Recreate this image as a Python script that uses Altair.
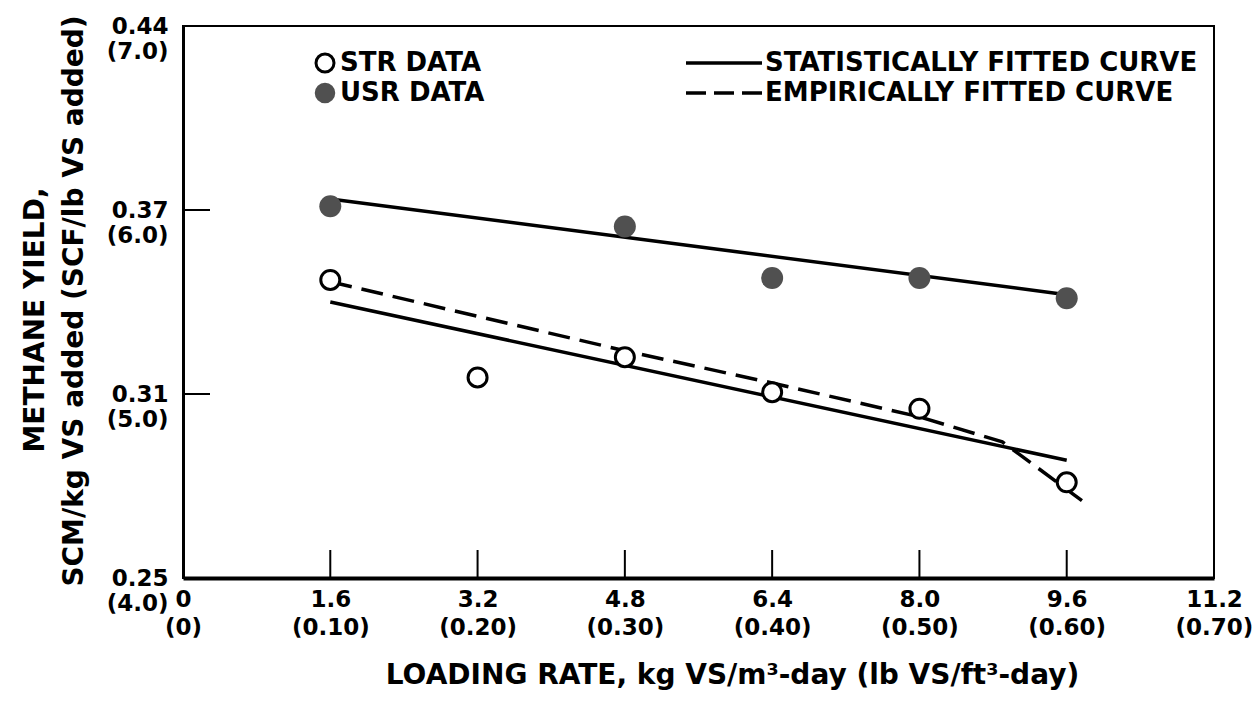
import altair as alt
import pandas as pd

# ---------------- data ----------------
# Loading rate, kg VS/m3-day ; methane yield in SCF/lb VS added (linear axis)
str_x = [1.6, 3.2, 4.8, 6.4, 8.0, 9.6]
str_y = [5.62, 5.09, 5.20, 5.01, 4.92, 4.52]

usr_x = [1.6, 4.8, 6.4, 8.0, 9.6]
usr_y = [6.02, 5.91, 5.63, 5.63, 5.52]

stat_usr_x = [1.6, 9.6]
stat_usr_y = [6.06, 5.54]

stat_str_x = [1.6, 9.6]
stat_str_y = [5.50, 4.64]

emp_x = [1.6, 4.8, 6.4, 8.0, 8.9, 9.2, 9.82]
emp_y = [5.61, 5.235, 5.06, 4.876, 4.74, 4.63, 4.40]

x_tick_values = [0, 1.6, 3.2, 4.8, 6.4, 8.0, 9.6, 11.2]
x_label_top = ["0", "1.6", "3.2", "4.8", "6.4", "8.0", "9.6", "11.2"]
x_label_bottom = ["(0)", "(0.10)", "(0.20)", "(0.30)", "(0.40)", "(0.50)", "(0.60)", "(0.70)"]
x_inner_ticks = [1.6, 3.2, 4.8, 6.4, 8.0, 9.6]

y_tick_values = [4.0, 5.0, 6.0, 7.0]
y_label_top = ["0.25", "0.31", "0.37", "0.44"]
y_label_bottom = ["(4.0)", "(5.0)", "(6.0)", "(7.0)"]
y_inner_ticks = [5.0, 6.0]

legend_markers = ["STR DATA", "USR DATA"]
legend_lines = ["STATISTICALLY FITTED CURVE", "EMPIRICALLY FITTED CURVE"]
x_title = "LOADING RATE, kg VS/m\u00b3-day (lb VS/ft\u00b3-day)"
y_title_outer = "METHANE YIELD,"
y_title_inner = "SCM/kg VS added (SCF/lb VS added)"

# ---------------- layout ----------------
W, H = 1031, 552
PAD_L, PAD_T = 183, 26
FONT = "DejaVu Sans"


def label_expr(values, top, bottom):
    expr = "['', '']"
    for v, t, b in reversed(list(zip(values, top, bottom))):
        expr = f"(abs(datum.value - {v}) < 0.01) ? ['{t}', '{b}'] : ({expr})"
    return expr


xs = alt.Scale(domain=[0, 11.2], nice=False, zero=False)
ys = alt.Scale(domain=[4.0, 7.0], nice=False, zero=False)

x_axis = alt.Axis(
    values=x_tick_values, ticks=False, grid=False, domain=True,
    domainColor="black", domainWidth=4,
    labelExpr=label_expr(x_tick_values, x_label_top, x_label_bottom),
    labelFont=FONT, labelFontSize=23, labelFontWeight="bold", labelColor="black",
    labelBaseline="top", labelAlign="center", labelPadding=10, labelLineHeight=28,
    labelFlush=False, labelOverlap=False, labelBound=False,
    title=x_title, titleFont=FONT, titleFontSize=28, titleFontWeight="bold",
    titleColor="black", titleX=549, titleY=97, titleBaseline="middle",
    titleAlign="center", titleAnchor="start",
)
y_axis = alt.Axis(
    values=y_tick_values, ticks=False, grid=False, domain=True,
    domainColor="black", domainWidth=3,
    labelExpr=label_expr(y_tick_values, y_label_top, y_label_bottom),
    labelFont=FONT, labelFontSize=23, labelFontWeight="bold", labelColor="black",
    labelBaseline="top", labelAlign="right", labelPadding=15, labelLineHeight=25,
    labelOffset=-11, labelFlush=False, labelOverlap=False, labelBound=False,
    title=None,
)

df_str = pd.DataFrame({"x": str_x, "y": str_y})
df_usr = pd.DataFrame({"x": usr_x, "y": usr_y})
df_stat_usr = pd.DataFrame({"x": stat_usr_x, "y": stat_usr_y})
df_stat_str = pd.DataFrame({"x": stat_str_x, "y": stat_str_y})
df_emp = pd.DataFrame({"x": emp_x, "y": emp_y})


def X():
    return alt.X("x:Q", scale=xs, axis=x_axis)


def Y():
    return alt.Y("y:Q", scale=ys, axis=y_axis)


line_stat_usr = alt.Chart(df_stat_usr).mark_line(color="black", strokeWidth=3.5).encode(
    x=X(), y=Y())
line_stat_str = alt.Chart(df_stat_str).mark_line(color="black", strokeWidth=3.5).encode(
    x=X(), y=Y())
line_emp = alt.Chart(df_emp).mark_line(color="black", strokeWidth=3.5, strokeDash=[22, 10]).encode(
    x=X(), y=Y())

pts_str = alt.Chart(df_str).mark_point(
    shape="circle", size=361, fill="white", fillOpacity=1, stroke="black",
    strokeWidth=3, opacity=1).encode(x=X(), y=Y())
pts_usr = alt.Chart(df_usr).mark_point(
    shape="circle", size=484, filled=True, color="#505050", opacity=1,
    strokeWidth=0).encode(x=X(), y=Y())

# inward tick marks
df_xt = pd.DataFrame({"x": x_inner_ticks})
xticks = alt.Chart(df_xt).mark_rule(color="black", strokeWidth=2).encode(
    x=X(), y=alt.value(H), y2=alt.value(H - 28))
df_yt = pd.DataFrame({"y": y_inner_ticks})
yticks = alt.Chart(df_yt).mark_rule(color="black", strokeWidth=2).encode(
    y=Y(), x=alt.value(0), x2=alt.value(27))

# legend (drawn by hand, like the original)
df_lm = pd.DataFrame({"t": legend_markers[:1]})
LEG_FS = 26
leg_str_sym = alt.Chart(df_lm).mark_point(
    shape="circle", size=324, fill="white", fillOpacity=1, stroke="black",
    strokeWidth=3, opacity=1).encode(x=alt.value(142), y=alt.value(37))
leg_usr_sym = alt.Chart(df_lm).mark_point(
    shape="circle", size=420, filled=True, color="#505050", opacity=1).encode(
    x=alt.value(142), y=alt.value(67))
leg_str_txt = alt.Chart(pd.DataFrame({"t": legend_markers[:1]})).mark_text(
    font=FONT, fontSize=LEG_FS, fontWeight="bold", align="left", baseline="middle",
    color="black").encode(x=alt.value(157), y=alt.value(37), text="t:N")
leg_usr_txt = alt.Chart(pd.DataFrame({"t": legend_markers[1:]})).mark_text(
    font=FONT, fontSize=LEG_FS, fontWeight="bold", align="left", baseline="middle",
    color="black").encode(x=alt.value(157), y=alt.value(67), text="t:N")
leg_solid = alt.Chart(df_lm).mark_rule(color="black", strokeWidth=3.5).encode(
    x=alt.value(503), x2=alt.value(579), y=alt.value(37))
leg_dash = alt.Chart(df_lm).mark_rule(color="black", strokeWidth=3.5, strokeDash=[20, 8]).encode(
    x=alt.value(503), x2=alt.value(579), y=alt.value(67))
leg_stat_txt = alt.Chart(pd.DataFrame({"t": legend_lines[:1]})).mark_text(
    font=FONT, fontSize=LEG_FS, fontWeight="bold", align="left", baseline="middle",
    color="black").encode(x=alt.value(582), y=alt.value(37), text="t:N")
leg_emp_txt = alt.Chart(pd.DataFrame({"t": legend_lines[1:]})).mark_text(
    font=FONT, fontSize=LEG_FS, fontWeight="bold", align="left", baseline="middle",
    color="black").encode(x=alt.value(582), y=alt.value(67), text="t:N")

# y-axis title, two lines
yt_outer = alt.Chart(pd.DataFrame({"t": [y_title_outer]})).mark_text(
    font=FONT, fontSize=28, fontWeight="bold", angle=270, align="center",
    baseline="alphabetic", color="black").encode(
    x=alt.value(-139), y=alt.value(294), text="t:N")
yt_inner = alt.Chart(pd.DataFrame({"t": [y_title_inner]})).mark_text(
    font=FONT, fontSize=28, fontWeight="bold", angle=270, align="center",
    baseline="alphabetic", color="black").encode(
    x=alt.value(-100), y=alt.value(275), text="t:N")

chart = alt.layer(
    line_stat_usr, line_stat_str, line_emp, xticks, yticks, pts_str, pts_usr,
    leg_solid, leg_dash, leg_str_sym, leg_usr_sym,
    leg_str_txt, leg_usr_txt, leg_stat_txt, leg_emp_txt,
    yt_outer, yt_inner,
).properties(
    width=W, height=H,
    autosize=alt.AutoSizeParams(type="none"),
    padding={"left": PAD_L, "top": PAD_T, "right": 1258 - PAD_L - W, "bottom": 702 - PAD_T - H},
    background="white",
).configure_view(
    stroke="black", strokeWidth=2,
)

chart.save("out.html", embed_options={"renderer": "svg", "actions": False})
